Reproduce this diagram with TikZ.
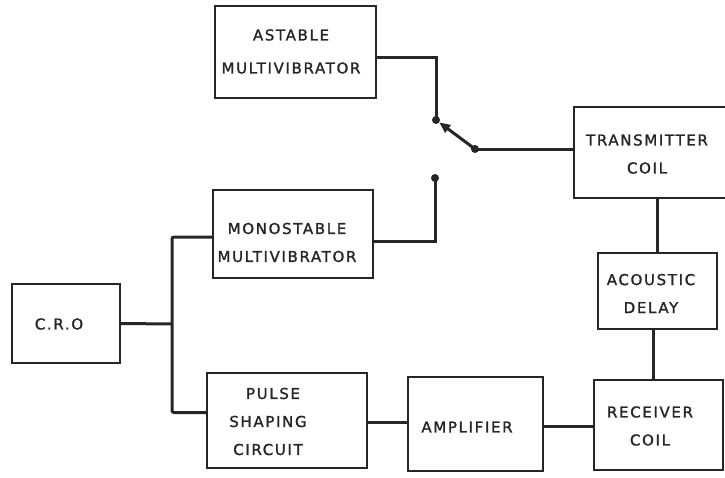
\documentclass[tikz,border=0pt]{standalone}
\usepackage{fontspec}
\newfontfamily\labfont[LetterSpace=11,FakeBold=1.4]{DejaVu Sans}
\usetikzlibrary{arrows.meta}
\tikzset{
  blk/.style={draw=black!85, line width=2pt, rectangle, inner sep=0pt},
  lbl/.style={align=center, inner sep=0pt, font=\labfont\fontsize{15}{28}\selectfont, text=black!85},
  wire/.style={draw=black!85, line width=3pt},
  dot/.style={circle, fill=black!85, inner sep=0pt, minimum size=8pt}
}
\begin{document}
\begin{tikzpicture}[x=1pt,y=-1pt]
\useasboundingbox (0,0) rectangle (725,477);
\fill[white] (0,0) rectangle (725,477);
\clip (0,0) rectangle (725,477);
% boxes
\node[blk, minimum width=161pt, minimum height=92pt] (ast) at (295.5,52) {};
\node[lbl] (astt) at (291,51.5) {ASTABLE\\[5pt]MULTIVIBRATOR};
\node[blk, minimum width=160pt, minimum height=88pt] (mono) at (293,234) {};
\node[lbl] (monot) at (287,242.5) {MONOSTABLE\\MULTIVIBRATOR};
\node[blk, minimum width=108pt, minimum height=79pt] (cro) at (66,323.5) {};
\node[lbl] (crot) at (59,324) {C.R.O};
\node[blk, minimum width=160pt, minimum height=95pt] (pulse) at (287,420.5) {};
\node[lbl] (pulset) at (268,421.5) {\hspace*{10pt}PULSE\\SHAPING\\CIRCUIT};
\node[blk, minimum width=135pt, minimum height=94pt] (amp) at (475.5,424) {};
\node[lbl] (ampt) at (467,427) {AMPLIFIER};
\node[blk, minimum width=129pt, minimum height=90pt] (rx) at (658.5,425) {};
\node[lbl] (rxt) at (650,426) {RECEIVER\\COIL};
\node[blk, minimum width=119pt, minimum height=76pt] (ac) at (657.5,291) {};
\node[lbl] (act) at (651,293.5) {ACOUSTIC\\DELAY};
\node[blk, minimum width=176pt, minimum height=91pt] (tx) at (662,152.5) {};
\node[lbl] (txt) at (647,154) {TRANSMITTER\\COIL};
% switch
\node[dot] (c1) at (436,120) {};
\node[dot] (c2) at (435,178) {};
\node[dot] (p) at (475,149) {};
\coordinate (j) at (172,324);
% connectors
\draw[wire] ([yshift=-5pt]ast.east) -| (c1.center);
\draw[wire, -{Triangle[length=11pt,width=9pt]}, shorten >=4pt] (p.center) -- (c1.center);
\draw[wire] (p.center) -- (p -| tx.west);
\draw[wire] (c2.center) |- ([yshift=-7pt]mono.east);
\draw[wire] (cro.east) -- (j);
\draw[wire, rounded corners=2pt] ([yshift=-3pt]mono.west) -| (j) |- ([yshift=8pt]pulse.west);
\draw[wire] ([yshift=-2pt]pulse.east) -- ([yshift=-2pt]pulse.east -| amp.west);
\draw[wire] ([yshift=-2pt]amp.east) -- ([yshift=-2pt]amp.east -| rx.west);
\draw[wire] (ac.north |- tx.south) -- (ac.north);
\draw[wire] ([xshift=-4pt]ac.south) -- ([xshift=-4pt]ac.south |- rx.north);
\end{tikzpicture}
\end{document}
